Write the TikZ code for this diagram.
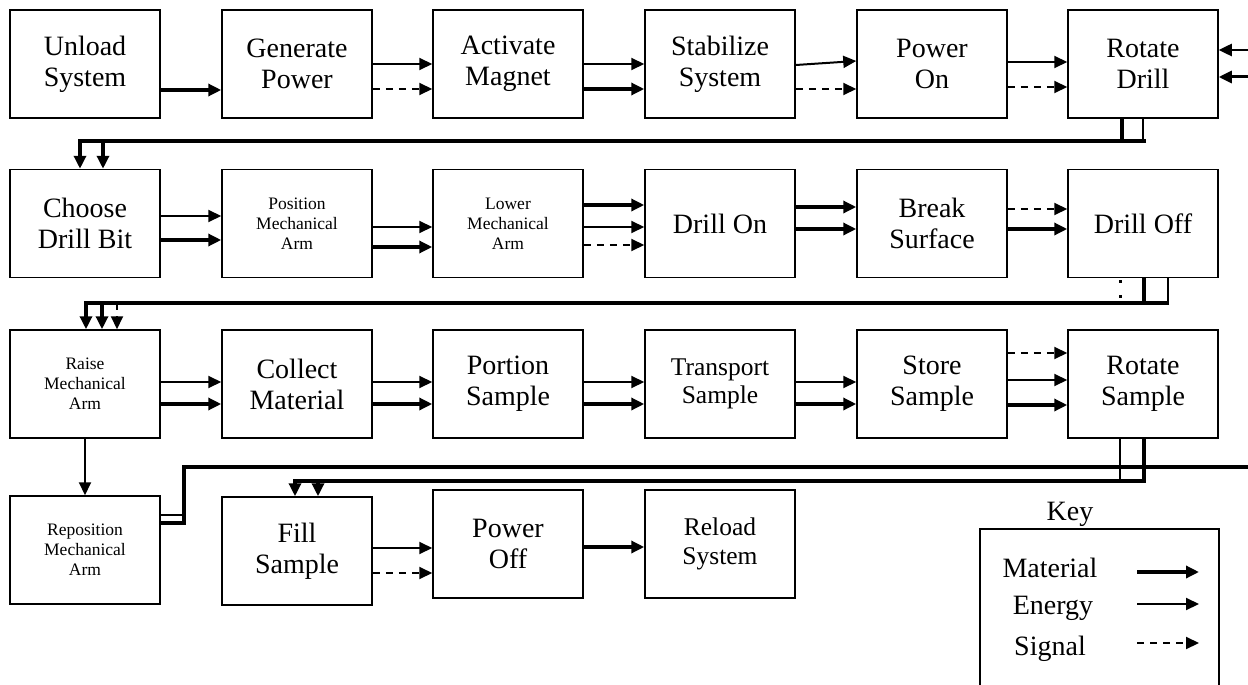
\documentclass[tikz,border=0pt]{standalone}
\usepackage{fontspec}
\setmainfont{Liberation Serif}
\usetikzlibrary{arrows.meta,calc}
\newcommand{\bigtxt}{\fontsize{28}{31}\selectfont}
\newcommand{\midtxt}{\fontsize{25.5}{28.5}\selectfont}
\newcommand{\smalltxt}{\fontsize{17.5}{20}\selectfont}

\begin{document}
\begin{tikzpicture}[x=1pt,y=-1pt,
  fbox/.style={draw, line width=1.5pt, minimum width=150pt, minimum height=108pt,
               inner sep=2pt, align=center, font=\bigtxt},
  small/.style={font=\smalltxt},
  tip/.style={-{Triangle[length=13pt,width=12pt]}},
  mat/.style={tip, line width=3.5pt},
  en/.style={tip, line width=2pt},
  sig/.style={tip, line width=2pt, dash pattern=on 7pt off 6pt},
  matline/.style={line width=3.5pt},
  enline/.style={line width=2pt},
  sigline/.style={line width=3pt, dash pattern=on 3pt off 12pt},
]
\useasboundingbox (0,0) rectangle (1248,685);

% ---------- row 1 ----------
\node[fbox] (unload) at (85,64)   {Unload\\System};
\node[fbox] (gen)    at (297,64)  {Generate\\Power};
\node[fbox] (mag)    at (508,64)  {Activate\\Magnet};
\node[fbox] (stab)   at (720,64)  {Stabilize\\System};
\node[fbox] (pon)    at (932,64)  {Power\\On};
\node[fbox] (rd)     at (1143,64) {Rotate\\Drill};

\draw[mat] ([yshift=-26pt]unload.east) -- ([yshift=-26pt]gen.west);
\draw[en]  (gen.east) -- (mag.west);
\draw[sig] ([yshift=-25pt]gen.east) -- ([yshift=-25pt]mag.west);
\draw[en]  (mag.east) -- (stab.west);
\draw[mat] ([yshift=-25pt]mag.east) -- ([yshift=-25pt]stab.west);
\draw[en]  ([yshift=-1pt]stab.east) -- ([yshift=3pt]pon.west);
\draw[sig] ([yshift=-25pt]stab.east) -- ([yshift=-25pt]pon.west);
\draw[en]  ([yshift=2pt]pon.east) -- ([yshift=2pt]rd.west);
\draw[sig] ([yshift=-23pt]pon.east) -- ([yshift=-23pt]rd.west);

\coordinate (in1) at (1248,50);
\coordinate (in2) at (1248,77);
\draw[en,line width=2.5pt] (in1) -- (rd.east |- in1);
\draw[mat,line width=3pt]  (in2) -- (rd.east |- in2);

% ---------- row 2 ----------
\node[fbox] (choose) at (85,223.5)   {Choose\\Drill Bit};
\node[fbox,small] (posarm) at (297,223.5) {Position\\Mechanical\\Arm};
\node[fbox,small] (lowarm) at (508,223.5) {Lower\\Mechanical\\Arm};
\node[fbox] (don)    at (720,223.5)  {Drill On};
\node[fbox] (brk)    at (932,223.5)  {Break\\Surface};
\node[fbox] (doff)   at (1143,223.5) {Drill Off};

% return line from the first row
\coordinate (bus1) at (0,141);
\draw[enline]  (rd.south) -- (rd.south |- bus1);
\draw[matline] ([xshift=3pt]rd.south |- bus1) -- ([xshift=-21pt]rd.south |- bus1);
\draw[mat] ([xshift=-21pt]rd.south) |- ([xshift=-5pt]choose.north |- bus1) -- ([xshift=-5pt]choose.north);
\draw[mat] ([xshift=18pt]choose.north |- bus1) -- ([xshift=18pt]choose.north);

\draw[en]  ([yshift=7.5pt]choose.east) -- ([yshift=7.5pt]posarm.west);
\draw[mat] ([yshift=-16.5pt]choose.east) -- ([yshift=-16.5pt]posarm.west);
\draw[en]  ([yshift=-3.5pt]posarm.east) -- ([yshift=-3.5pt]lowarm.west);
\draw[mat] ([yshift=-23.5pt]posarm.east) -- ([yshift=-23.5pt]lowarm.west);
\draw[mat] ([yshift=18.5pt]lowarm.east) -- ([yshift=18.5pt]don.west);
\draw[en]  ([yshift=-3.5pt]lowarm.east) -- ([yshift=-3.5pt]don.west);
\draw[sig] ([yshift=-21.5pt]lowarm.east) -- ([yshift=-21.5pt]don.west);
\draw[mat] ([yshift=16.5pt]don.east) -- ([yshift=16.5pt]brk.west);
\draw[mat] ([yshift=-5.5pt]don.east) -- ([yshift=-5.5pt]brk.west);
\draw[sig] ([yshift=14.5pt]brk.east) -- ([yshift=14.5pt]doff.west);
\draw[mat] ([yshift=-5.5pt]brk.east) -- ([yshift=-5.5pt]doff.west);

% ---------- row 3 ----------
\node[fbox,small] (raise) at (85,384) {Raise\\Mechanical\\Arm};
\node[fbox] (collect) at (297,384)  {Collect\\Material};
\node[fbox] (portion) at (508,384)  {Portion\\Sample};
\node[fbox,font=\midtxt] (trans) at (720,384) {Transport\\Sample};
\node[fbox] (store)   at (932,384)  {Store\\Sample};
\node[fbox] (rs)      at (1143,384) {Rotate\\Sample};

% return line from the second row
\coordinate (bus2) at (0,303);
\draw[sigline] ([xshift=-23pt,yshift=-2pt]doff.south) -- ([xshift=-23pt]doff.south |- bus2);
\draw[enline]  ([xshift=25pt]doff.south) -- ([xshift=25pt]doff.south |- bus2);
\draw[matline] ([xshift=26pt]doff.south |- bus2) -- ([xshift=1pt]doff.south |- bus2);
\draw[mat] ([xshift=1pt]doff.south) |- ([xshift=1pt]raise.north |- bus2) -- ([xshift=1pt]raise.north);
\draw[mat] ([xshift=17pt]raise.north |- bus2) -- ([xshift=17pt]raise.north);
\draw[sig] ([xshift=32pt]raise.north |- bus2) -- ([xshift=32pt]raise.north);

\foreach \a/\b in {raise/collect, collect/portion, portion/trans, trans/store}{
  \draw[en]  ([yshift=2pt]\a.east) -- ([yshift=2pt]\b.west);
  \draw[mat] ([yshift=-20pt]\a.east) -- ([yshift=-20pt]\b.west);
}
\draw[sig] ([yshift=31pt]store.east) -- ([yshift=31pt]rs.west);
\draw[en]  ([yshift=4pt]store.east) -- ([yshift=4pt]rs.west);
\draw[mat] ([yshift=-21pt]store.east) -- ([yshift=-21pt]rs.west);

% ---------- row 4 ----------
\node[fbox,small] (repo) at (85,550) {Reposition\\Mechanical\\Arm};
\node[fbox] (fill)   at (297,551) {Fill\\Sample};
\node[fbox] (poff)   at (508,544) {Power\\Off};
\node[fbox,font=\midtxt] (reload) at (720,544) {Reload\\System};

\draw[en] (raise.south) -- (repo.north);

% line leaving the reposition step
\coordinate (edge3) at (1248,467);
\draw[enline]  ([yshift=35pt]repo.east) -- ++(23,0);
\draw[matline] ([yshift=27pt]repo.east) -- ++(23,0) |- (edge3);

% return line from the third row
\coordinate (bus4) at (0,481);
\draw[enline] ([xshift=-23pt]rs.south) -- ([xshift=-23pt]rs.south |- bus4);
\draw[mat] ([xshift=1pt]rs.south) |- ([xshift=-2pt]fill.north |- bus4) -- ([xshift=-2pt]fill.north);
\draw[mat] ([xshift=21pt]fill.north |- bus4) -- ([xshift=21pt]fill.north);

\draw[en]  ([yshift=3pt]fill.east) -- ([yshift=3pt]fill.east -| poff.west);
\draw[sig] ([yshift=-22pt]fill.east) -- ([yshift=-22pt]fill.east -| poff.west);
\draw[mat] ([yshift=-3pt]poff.east) -- ([yshift=-3pt]reload.west);

% ---------- key ----------
\node[font=\bigtxt, anchor=base] (keyt) at (1070,520) {Key};
\draw[line width=1.5pt] (980,700) -- (980,529) -- (1219,529) -- (1219,700);
\node[font=\bigtxt, anchor=base] (kmat) at (1050,577) {Material};
\node[font=\bigtxt, anchor=base] (ken)  at (1053,614) {Energy};
\node[font=\bigtxt, anchor=base] (ksig) at (1050,655) {Signal};
\coordinate (km1) at (1137,572); \coordinate (km2) at (1199,572);
\coordinate (ke1) at (1137,604); \coordinate (ke2) at (1199,604);
\coordinate (ks1) at (1137,643); \coordinate (ks2) at (1199,643);
\draw[mat] (km1) -- (km2);
\draw[en]  (ke1) -- (ke2);
\draw[sig] (ks1) -- (ks2);
\end{tikzpicture}
\end{document}
